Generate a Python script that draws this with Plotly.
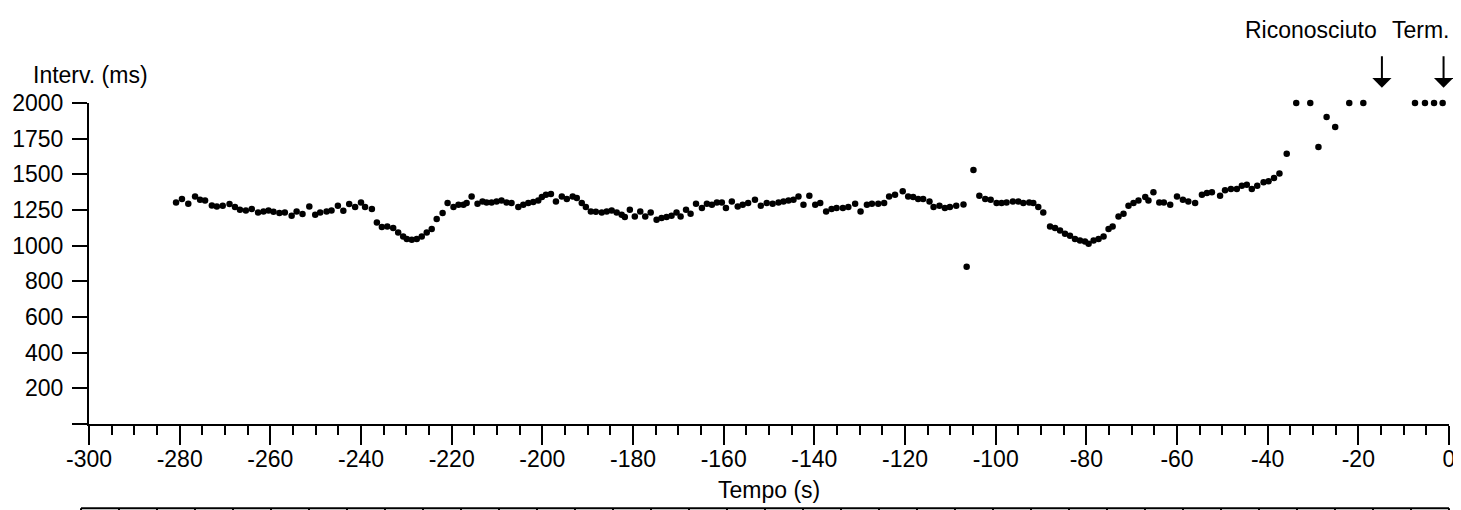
import plotly.graph_objects as go

# ---------------- data ----------------
TIME_S = [
    -280.8, -279.5, -278.1, -276.6, -275.5, -274.4, -272.9, -271.8, -270.5, -269.0,
    -267.8, -266.7, -265.4, -264.1, -262.7, -261.5, -260.4, -259.3, -258.0, -256.8,
    -255.3, -254.2, -252.9, -251.4, -250.1, -249.0, -247.6, -246.5, -245.1, -243.9,
    -242.6, -241.3, -240.0, -239.1, -237.6, -236.5, -235.4, -234.2, -232.9, -231.8,
    -230.7, -229.9, -228.8, -227.7, -226.6, -225.5, -224.4, -223.3, -222.0, -220.9,
    -219.6, -218.5, -217.4, -216.7, -215.6, -214.3, -213.2, -212.3, -211.2, -210.1,
    -209.0, -207.9, -206.8, -205.3, -204.2, -203.1, -202.0, -200.9, -200.1, -199.2,
    -198.1, -197.0, -195.7, -194.6, -193.3, -192.4, -191.3, -190.4, -189.3, -188.2,
    -186.9, -185.8, -184.7, -183.6, -182.5, -181.8, -180.7, -179.6, -178.4, -177.3,
    -176.1, -174.8, -173.7, -172.6, -171.5, -170.4, -169.5, -168.3, -167.3, -166.1,
    -164.8, -163.7, -162.6, -161.5, -160.4, -159.5, -158.2, -156.9,
    -155.8, -154.6, -153.1, -151.8, -150.5, -149.2, -147.9, -146.8, -145.7, -144.6,
    -143.5, -142.4, -141.1, -139.8, -138.7, -137.4, -136.2, -135.1, -133.7, -132.5,
    -131.0, -129.8, -128.4, -127.3, -125.9, -124.6, -123.5, -122.2, -120.5, -119.3,
    -118.2, -117.1, -116.0, -114.6, -113.7, -112.4, -111.2, -110.1, -108.7, -107.1,
    -106.4, -104.9, -103.6, -102.3, -101.1, -99.8, -98.7, -97.6, -96.2, -95.0,
    -93.9, -92.6,
    -91.7, -90.6, -89.5, -88.0, -86.9, -85.8, -84.7, -83.6, -82.5, -81.4,
    -80.3, -79.5, -78.4, -77.3, -76.2, -75.1, -74.2, -72.9, -71.8, -70.7,
    -69.6, -68.5, -67.0, -66.3, -65.2, -63.9, -62.9, -61.5, -60.0, -58.7,
    -57.5, -56.0, -54.5, -53.4, -52.3, -50.5, -49.4, -48.1, -46.8, -45.7,
    -44.6, -43.5, -42.3, -40.9, -39.8, -38.6, -37.4,
    -35.8, -33.7, -30.6, -28.8, -27.0, -25.1, -22.0, -18.9, -7.5, -5.3,
    -3.3, -1.4,
]

INTERVAL_MS = [
    1303, 1327, 1294, 1345, 1322, 1317, 1282, 1275, 1280, 1292,
    1271, 1252, 1247, 1257, 1233, 1240, 1247, 1238, 1229, 1233,
    1210, 1240, 1222, 1275, 1217, 1233, 1240, 1247, 1280, 1245,
    1292, 1271, 1303, 1271, 1257, 1163, 1131, 1135, 1124, 1093,
    1065, 1047, 1042, 1047, 1065, 1093, 1117, 1187, 1229, 1299,
    1271, 1287, 1287, 1299, 1345, 1294, 1310, 1303, 1303, 1310,
    1317, 1303, 1299, 1271, 1287, 1299, 1306, 1317, 1341, 1357,
    1362, 1310, 1345, 1327, 1345, 1334, 1299, 1271, 1240, 1238,
    1233, 1240, 1247, 1233, 1217, 1201, 1252, 1205, 1240, 1205,
    1233, 1182, 1194, 1201, 1210, 1233, 1205, 1252, 1224, 1294,
    1264, 1294, 1287, 1303, 1303, 1264, 1310, 1275,
    1287, 1299, 1322, 1280, 1299, 1294, 1303, 1310, 1317, 1322,
    1345, 1287, 1350, 1287, 1299, 1240, 1257, 1264, 1264, 1271,
    1294, 1240, 1287, 1294, 1294, 1299, 1345, 1357, 1381, 1345,
    1341, 1327, 1327, 1310, 1271, 1280, 1264, 1271, 1280, 1289,
    882, 1530, 1350, 1327, 1322, 1299, 1299, 1303, 1310, 1310,
    1299, 1303,
    1299, 1271, 1233, 1135, 1124, 1107, 1084, 1070, 1047, 1037,
    1030, 1014, 1037, 1047, 1065, 1117, 1135, 1205, 1224, 1280,
    1299, 1317, 1341, 1317, 1374, 1303, 1303, 1287, 1345, 1322,
    1310, 1299, 1357, 1369, 1374, 1350, 1388, 1397, 1397, 1420,
    1427, 1397, 1420, 1444, 1451, 1474, 1505,
    1645, 2000, 2000, 1692, 1902, 1832, 2000, 2000, 2000, 2000,
    2000, 2000,
]

Y_TICK_VALUES = [0, 200, 400, 600, 800, 1000, 1250, 1500, 1750, 2000]
Y_TICK_LABELS = ["", "200", "400", "600", "800", "1000", "1250", "1500", "1750", "2000"]
X_TICK_VALUES = [-300, -280, -260, -240, -220, -200, -180, -160, -140, -120,
                 -100, -80, -60, -40, -20, 0]
X_TICK_LABELS = ["-300", "-280", "-260", "-240", "-220", "-200", "-180", "-160",
                 "-140", "-120", "-100", "-80", "-60", "-40", "-20", "0"]

EVENT_TIMES = [-14.8, -1.2]
EVENT_LABELS = ["Riconosciuto", "Term."]

X_TITLE = "Tempo (s)"
Y_TITLE = "Interv. (ms)"


# piecewise-linear y scale: 200 ms per step below 1000, 250 ms per step above
def y_scale(v):
    return v / 200.0 if v <= 1000 else 5.0 + (v - 1000) / 250.0


FONT = "Liberation Sans, Arial, sans-serif"
FS = 23
INK = "#000000"

# the page body has an 8 px margin, so the figure is 8 px smaller than the window
W, H = 1453, 502
PLOT_W = 1360.0
PLOT_H = 321.0

fig = go.Figure()
fig.add_trace(go.Scatter(
    x=TIME_S,
    y=[y_scale(v) for v in INTERVAL_MS],
    mode="markers",
    marker=dict(size=6.5, color=INK),
    cliponaxis=False,
    showlegend=False,
    hoverinfo="skip",
))

fig.update_layout(
    width=W, height=H,
    margin=dict(l=81, r=12, t=95, b=86, autoexpand=False),
    paper_bgcolor="white", plot_bgcolor="white",
    font=dict(family=FONT, size=FS, color=INK),
    showlegend=False,
)

fig.update_xaxes(
    range=[-300, 0],
    tickvals=X_TICK_VALUES, ticktext=X_TICK_LABELS,
    showline=True, linewidth=2, linecolor=INK,
    ticks="outside", ticklen=19, tickwidth=2, tickcolor=INK,
    ticklabelstandoff=-6,
    minor=dict(dtick=5, tick0=-300, ticks="outside", ticklen=9, tickwidth=2, tickcolor=INK),
    showgrid=False, zeroline=False, automargin=False,
    tickfont=dict(family=FONT, size=FS, color=INK),
)
fig.update_yaxes(
    range=[0, 9],
    tickvals=[y_scale(v) for v in Y_TICK_VALUES], ticktext=Y_TICK_LABELS,
    showline=True, linewidth=2, linecolor=INK,
    ticks="outside", ticklen=15, tickwidth=2, tickcolor=INK,
    ticklabelstandoff=4,
    showgrid=False, zeroline=False, automargin=False,
    tickfont=dict(family=FONT, size=FS, color=INK),
)

annotations = [
    dict(text=Y_TITLE, xref="paper", yref="paper", x=-0.043, y=1.088,
         xanchor="left", yanchor="middle", showarrow=False,
         font=dict(family=FONT, size=FS, color=INK)),
    dict(text=X_TITLE, xref="paper", yref="paper", x=0.5, y=-0.207,
         xanchor="center", yanchor="middle", showarrow=False,
         font=dict(family=FONT, size=FS, color=INK)),
]
label_shift = [-3, 8]
for t, lab, sh in zip(EVENT_TIMES, EVENT_LABELS, label_shift):
    annotations.append(dict(
        x=t, y=1.0477, xref="x", yref="paper",
        showarrow=True, ax=0, ay=-33, axref="pixel", ayref="pixel",
        arrowhead=1, arrowsize=1.6, arrowwidth=2, arrowcolor=INK, text="",
    ))
    annotations.append(dict(
        text=lab, x=t, y=1.228, xref="x", yref="paper", xshift=sh,
        xanchor="right", yanchor="middle", showarrow=False,
        font=dict(family=FONT, size=FS, color=INK),
    ))
fig.update_layout(annotations=annotations)

# top edge of the next (cropped) panel at the bottom of the picture
y_edge = -84.2 / PLOT_H
shapes = [dict(type="line", xref="paper", yref="paper",
               x0=-8 / PLOT_W, x1=1.0, y0=y_edge, y1=y_edge,
               line=dict(color=INK, width=2))]
for k in range(37):
    xp = (-8 + k * 38.0) / PLOT_W
    shapes.append(dict(type="line", xref="paper", yref="paper",
                       x0=xp, x1=xp, y0=y_edge, y1=y_edge - 0.02,
                       line=dict(color=INK, width=2)))
fig.update_layout(shapes=shapes)

fig.write_html("out.html")
